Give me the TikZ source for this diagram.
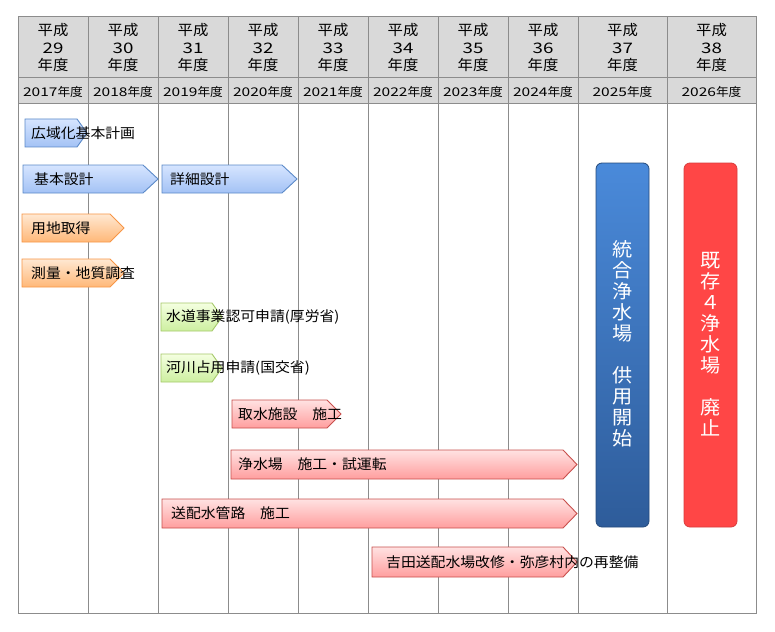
\documentclass[tikz,border=0pt]{standalone}
\usepackage{graphicx}
\usepackage{fontspec}
\setmainfont[FakeStretch=1.06]{Noto Sans CJK JP}
\newcommand\dg[1]{\scalebox{1.22}[1]{#1}}
\definecolor{hdr}{HTML}{D9D9D9}
\definecolor{gridc}{HTML}{8C8C8C}
\definecolor{blueT}{HTML}{D6E5FF}
\definecolor{blueB}{HTML}{A3C2F5}
\definecolor{blueD}{HTML}{5B8AC9}
\definecolor{orT}{HTML}{FFE8D2}
\definecolor{orB}{HTML}{FFB878}
\definecolor{orD}{HTML}{F79646}
\definecolor{grT}{HTML}{F4FFE0}
\definecolor{grB}{HTML}{CDEFA0}
\definecolor{grD}{HTML}{A6C96A}
\definecolor{rdT}{HTML}{FFE2E2}
\definecolor{rdB}{HTML}{FF9E9E}
\definecolor{rdD}{HTML}{C8504D}
\definecolor{barBT}{HTML}{4A8ADA}
\definecolor{barBB}{HTML}{2E5C9A}
\definecolor{barR}{HTML}{FF4646}
\newcommand\garrow[6]{%
  \path[#1] (#2,#5) -- (#3,#5) -- (#4,{(#5+#6)/2}) -- (#3,#6) -- (#2,#6) -- cycle;}
\begin{document}
\begin{tikzpicture}[x=1pt,y=-1pt,
  gridline/.style={draw=gridc,line width=1pt},
  hdrtext/.style={align=center,font=\fontsize{14.5}{17.5}\selectfont,inner sep=0pt},
  yeartext/.style={font=\fontsize{12}{14}\selectfont,inner sep=0pt},
  lbl/.style={anchor=west,font=\fontsize{14}{16}\selectfont,inner sep=0pt},
  bluearr/.style={draw=blueD,line width=0.9pt,top color=blueT,bottom color=blueB},
  orarr/.style={draw=orD,line width=0.9pt,top color=orT,bottom color=orB},
  grarr/.style={draw=grD,line width=0.9pt,top color=grT,bottom color=grB},
  rdarr/.style={draw=rdD,line width=0.9pt,top color=rdT,bottom color=rdB},
  bartext/.style={align=center,text=white,font=\fontsize{19}{21}\selectfont,inner sep=0pt}]
\useasboundingbox (0,0) rectangle (775,631);
\fill[white] (0,0) rectangle (775,631);
% header
\fill[hdr] (18,17) rectangle (756,104);
\foreach \x in {88,158,228,298,368,438,508,578,667}
  \draw[gridline] (\x,17) -- (\x,613);
\draw[gridline] (18,78) -- (756,78);
\draw[gridline] (18,104) -- (756,104);
\draw[gridline] (18,17) rectangle (756,613);
% header texts
\node[hdrtext] (h29) at (53,48) {平成\\\dg{29}\\年度};
\node[hdrtext] (h30) at (123,48) {平成\\\dg{30}\\年度};
\node[hdrtext] (h31) at (193,48) {平成\\\dg{31}\\年度};
\node[hdrtext] (h32) at (263,48) {平成\\\dg{32}\\年度};
\node[hdrtext] (h33) at (333,48) {平成\\\dg{33}\\年度};
\node[hdrtext] (h34) at (403,48) {平成\\\dg{34}\\年度};
\node[hdrtext] (h35) at (473,48) {平成\\\dg{35}\\年度};
\node[hdrtext] (h36) at (543,48) {平成\\\dg{36}\\年度};
\node[hdrtext] (h37) at (622.5,48) {平成\\\dg{37}\\年度};
\node[hdrtext] (h38) at (711.5,48) {平成\\\dg{38}\\年度};
\node[yeartext] (y2017) at (53,92) {\dg{2017}年度};
\node[yeartext] (y2018) at (123,92) {\dg{2018}年度};
\node[yeartext] (y2019) at (193,92) {\dg{2019}年度};
\node[yeartext] (y2020) at (263,92) {\dg{2020}年度};
\node[yeartext] (y2021) at (333,92) {\dg{2021}年度};
\node[yeartext] (y2022) at (403,92) {\dg{2022}年度};
\node[yeartext] (y2023) at (473,92) {\dg{2023}年度};
\node[yeartext] (y2024) at (543,92) {\dg{2024}年度};
\node[yeartext] (y2025) at (622.5,92) {\dg{2025}年度};
\node[yeartext] (y2026) at (711.5,92) {\dg{2026}年度};
% arrows
\garrow{bluearr}{25}{77}{87}{119}{147}
\node[lbl] (a1) at (31,133) {広域化基本計画};
\garrow{bluearr}{23}{143}{158}{165}{193}
\node[lbl] (a2) at (34,179) {基本設計};
\garrow{bluearr}{162}{282}{297}{165}{193}
\node[lbl] (a3) at (170,179) {詳細設計};
\garrow{orarr}{22}{110}{124}{214}{242}
\node[lbl] (a4) at (31,228) {用地取得};
\garrow{orarr}{22}{110}{124}{259}{287}
\node[lbl] (a5) at (31,273) {測量・地質調査};
\garrow{grarr}{161}{212}{222}{303}{331}
\node[lbl] (a6) at (166,317) {水道事業認可申請(厚労省)};
\garrow{grarr}{161}{212}{222}{354}{382}
\node[lbl] (a7) at (166,368) {河川占用申請(国交省)};
\garrow{rdarr}{232}{327}{341}{400}{428}
\node[lbl] (a8) at (238,414) {取水施設　施工};
\garrow{rdarr}{231}{563}{577}{450}{479}
\node[lbl] (a9) at (238,464.5) {浄水場　施工・試運転};
\garrow{rdarr}{162}{563}{577}{499}{528}
\node[lbl] (a10) at (171,513.5) {送配水管路　施工};
\garrow{rdarr}{372}{563}{577}{547}{577}
\node[lbl] (a11) at (386,562) {吉田送配水場改修・弥彦村内の再整備};
% vertical bars
\path[draw=barBB!80!black,line width=0.8pt,rounded corners=6pt,top color=barBT,bottom color=barBB]
  (596,163) rectangle (649,527);
\node[bartext] (b1) at (622.5,344) {統\\合\\浄\\水\\場\\　\\供\\用\\開\\始};
\path[draw=barR!85!black,line width=0.8pt,rounded corners=6pt,fill=barR]
  (684,163) rectangle (737,527);
\node[bartext] (b2) at (710.5,344) {既\\存\\４\\浄\\水\\場\\　\\廃\\止};
\end{tikzpicture}
\end{document}
